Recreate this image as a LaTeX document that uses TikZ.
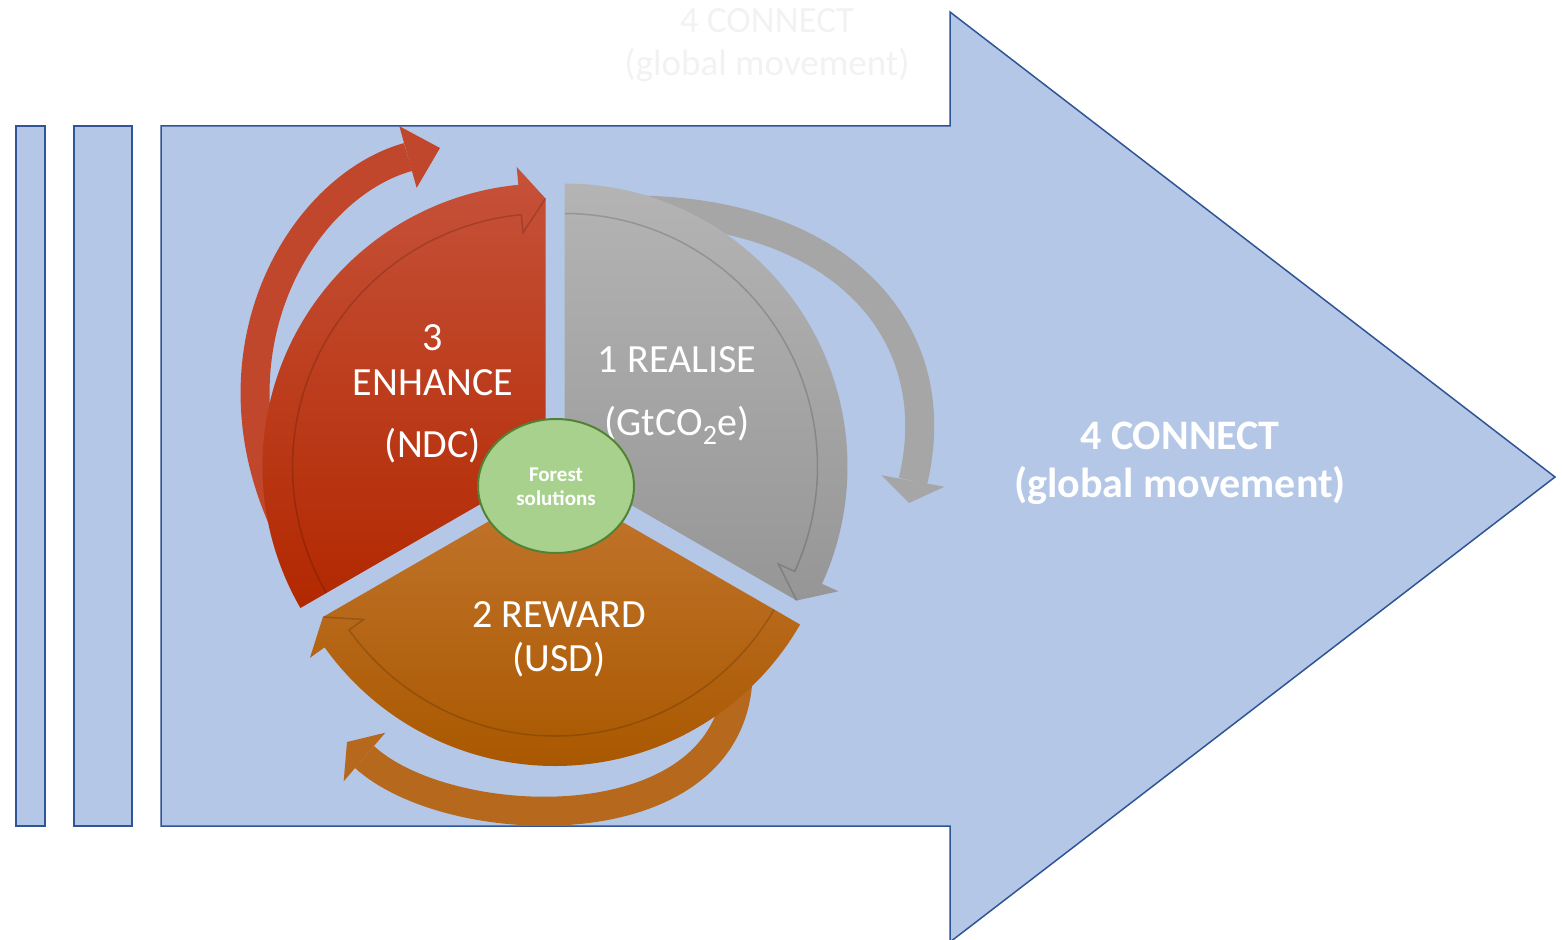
\documentclass[tikz,border=0pt]{standalone}
\usepackage{fontspec}
\setmainfont{Carlito}
\usetikzlibrary{calc,shapes.geometric}

\definecolor{arrowblue}{HTML}{B4C7E7}
\definecolor{arrowedge}{HTML}{2F5597}
\definecolor{enhancetop}{RGB}{198,82,58}
\definecolor{enhancebot}{RGB}{178,40,0}
\definecolor{realisetop}{RGB}{180,180,180}
\definecolor{realisebot}{RGB}{150,150,150}
\definecolor{rewardtop}{RGB}{194,118,46}
\definecolor{rewardbot}{RGB}{170,88,0}
\definecolor{loopred}{RGB}{192,70,44}
\definecolor{loopgray}{RGB}{166,166,166}
\definecolor{looporange}{RGB}{182,104,28}
\definecolor{forestfill}{HTML}{A9D18E}
\definecolor{forestedge}{HTML}{548235}

\tikzstyle{bluebox} = [fill=arrowblue, draw=arrowedge, line width=1.5pt]
\tikzstyle{rimline} = [draw=black, opacity=0.16, line width=1.5pt]
\tikzstyle{loopband} = [line width=29pt]
\tikzstyle{segtext} = [text=white, anchor=base, inner sep=0pt, font=\fontsize{40}{46}\selectfont]
\tikzstyle{connecttext} = [text=white, anchor=base, inner sep=0pt, font=\bfseries\fontsize{42}{48}\selectfont]
\tikzstyle{ghosttext} = [text=black!5, anchor=base, inner sep=0pt, font=\fontsize{37}{44}\selectfont]
\tikzstyle{foresttext} = [text=white, anchor=base, inner sep=0pt, font=\bfseries\fontsize{21}{24}\selectfont]

\begin{document}
\begin{tikzpicture}[x=1pt, y=-1pt]
\useasboundingbox (0,0) rectangle (1562,939);

% big arrow and the two bars
\draw[bluebox] (161,126) -- (950,126) -- (950,12) -- (1555,477) -- (950,942) -- (950,826) -- (161,826) -- cycle;
\draw[bluebox] (16,126) rectangle (45,826);
\draw[bluebox] (74,126) rectangle (132,826);

\node[ghosttext] (ghostName) at (767,33) {4 CONNECT};
\node[ghosttext] (ghostUnit) at (767,76) {(global movement)};

% apexes of the three segments
\coordinate (enhance) at (545.5,466.5);
\coordinate (realise) at (564.5,466.5);
\coordinate (reward) at (555,483);

% outer loop arrows
\coordinate (redTail) at (290,535);
\coordinate (redBase) at (408,157);
\coordinate (redTip) at (440,148);
\draw[loopband, draw=loopred] (redTail) .. controls (200,355) and (300,187) .. (redBase);
\fill[loopred] ($(redBase)!32pt!90:(redTip)$) -- (redTip) -- ($(redBase)!32pt!-90:(redTip)$) -- cycle;

\coordinate (grayTail) at (635,210);
\coordinate (grayBase) at (913,481);
\coordinate (grayTip) at (909,503);
\draw[loopband, draw=loopgray] (grayTail) .. controls (845,212) and (948,335) .. (grayBase);
\fill[loopgray] ($(grayBase)!32pt!90:(grayTip)$) -- (grayTip) -- ($(grayBase)!32pt!-90:(grayTip)$) -- cycle;

\coordinate (orangeTail) at (738,678);
\coordinate (orangeBase) at (364.5,757);
\coordinate (orangeTip) at (347,742);
\draw[loopband, draw=looporange] (orangeTail) .. controls (730,845) and (450,835) .. (orangeBase);
\fill[looporange] ($(orangeBase)!32pt!90:(orangeTip)$) -- (orangeTip) -- ($(orangeBase)!32pt!-90:(orangeTip)$) -- cycle;

% segments with their rim arrows
\begin{scope}[shift={(enhance)}]
  \shade[top color=enhancetop, bottom color=enhancebot] (0,0) -- (150:283) arc[start angle=150, end angle=264.5, radius=283] -- (264.5:301) -- (270:268) -- cycle;
  \draw[rimline] (150:253) arc[start angle=150, end angle=264.5, radius=253] -- (264.5:235) -- (270:268);
\end{scope}
\begin{scope}[shift={(realise)}]
  \shade[top color=realisetop, bottom color=realisebot] (0,0) -- (-90:283) arc[start angle=-90, end angle=24.5, radius=283] -- (24.5:301) -- (30:268) -- cycle;
  \draw[rimline] (-90:253) arc[start angle=-90, end angle=24.5, radius=253] -- (24.5:235) -- (30:268);
\end{scope}
\begin{scope}[shift={(reward)}]
  \shade[top color=rewardtop, bottom color=rewardbot] (0,0) -- (30:283) arc[start angle=30, end angle=144.5, radius=283] -- (144.5:301) -- (150:268) -- cycle;
  \draw[rimline] (30:253) arc[start angle=30, end angle=144.5, radius=253] -- (144.5:235) -- (150:268);
\end{scope}

\node[segtext] (enhanceNum) at (433,350) {3};
\node[segtext] (enhanceName) at (433,395) {ENHANCE};
\node[segtext] (enhanceUnit) at (433,457) {(NDC)};
\node[segtext] (realiseName) at (677,372) {1 REALISE};
\node[segtext] (realiseUnit) at (677,435) {(GtCO\textsubscript{2}e)};
\node[segtext] (rewardName) at (559,627) {2 REWARD};
\node[segtext] (rewardUnit) at (559,671) {(USD)};

\node[ellipse, fill=forestfill, draw=forestedge, line width=2pt, minimum width=156pt, minimum height=134pt] (forest) at (556,486) {};
\node[foresttext] (forestTop) at (556,481) {Forest};
\node[foresttext] (forestBottom) at (556,505) {solutions};

\node[connecttext] (connectName) at (1180,449) {4 CONNECT};
\node[connecttext] (connectUnit) at (1180,497) {(global movement)};
\end{tikzpicture}
\end{document}
